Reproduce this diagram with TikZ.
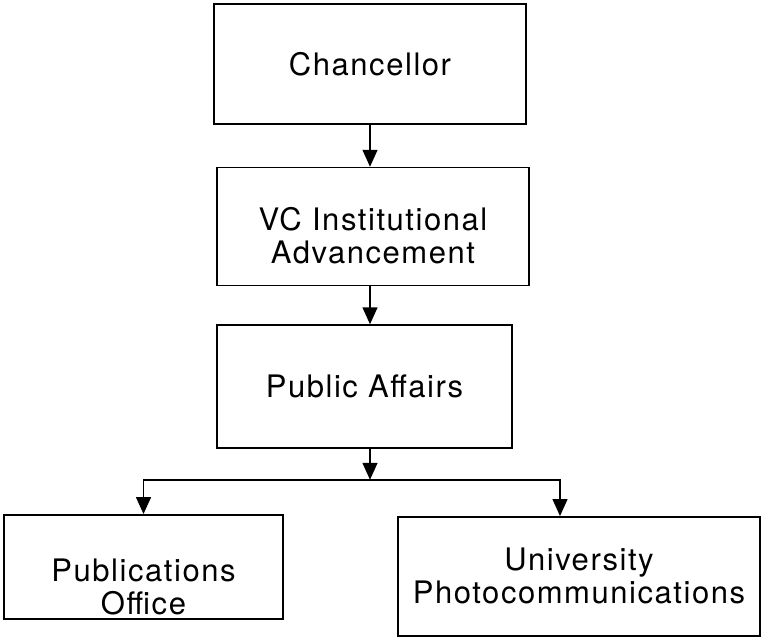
\documentclass[tikz,border=0pt]{standalone}
\usepackage{fontspec}
\setmainfont{TeX Gyre Heros}[LetterSpace=5]
\usetikzlibrary{positioning,calc,arrows.meta}

\begin{document}
\begin{tikzpicture}[
    font=\fontsize{31}{33}\selectfont,
    line width=1.5pt
  ]

\tikzstyle{unit}=[draw,align=center,inner sep=0pt]
\tikzstyle{down}=[-{Triangle[width=15pt,length=17pt]}]

\useasboundingbox (0,0) rectangle (761pt,-638pt);

\node[unit,minimum width=312pt,minimum height=120pt] at (370pt,-64pt) (chan) {Chancellor};
\node[unit,minimum width=312pt,minimum height=118pt,node distance=42pt,below = of chan,xshift=3pt,
  label={[align=center,yshift=-9pt]center:VC Institutional\\Advancement}] (vc) {};
\node[unit,minimum width=295pt,minimum height=123pt,node distance=38pt,below = of vc,xshift=-8.5pt] (pa) {Public Affairs};
\coordinate (split) at ($ (chan.south) - (0,355pt) $);

\node[unit,minimum width=279pt,minimum height=104pt,
  label={[align=center,yshift=-20pt]center:Publications\\Office}] at ($ (split) + (-226.5pt,-87pt) $) (pub) {};
\node[unit,minimum width=362pt,minimum height=119pt] at ($ (split) + (209pt,-96.5pt) $) (photo) {University\\Photocommunications};

\draw[down] (chan.south) -- (chan.south |- vc.north);
\draw[down] (chan.south |- vc.south) -- (chan.south |- pa.north);
\draw[down] (chan.south |- pa.south) -- (split);
\draw[down] (split) -| (pub.north);
\draw[down] (split) -| ([xshift=-19pt]photo.north);

\end{tikzpicture}
\end{document}
